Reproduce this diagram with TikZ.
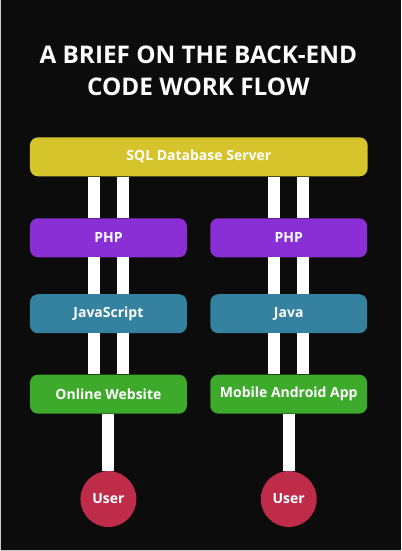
\documentclass[tikz,border=0pt]{standalone}
\usepackage{fontspec}
\setmainfont{Open Sans}
\usepackage{tikz}

\definecolor{bgblack}{HTML}{0C0C0C}
\definecolor{sqlyellow}{HTML}{D5C42B}
\definecolor{phppurple}{HTML}{8A2FD6}
\definecolor{codeblue}{HTML}{3581A0}
\definecolor{appgreen}{HTML}{3DAA2C}
\definecolor{usered}{HTML}{BE2C4A}

\begin{document}
\begin{tikzpicture}[x=1pt,y=-1pt,
  box/.style={rounded corners=8pt,minimum height=39pt,inner sep=0pt,text=white,
    font=\bfseries\fontsize{14}{16}\selectfont},
  half/.style={box,minimum width=157pt},
  user/.style={circle,fill=usered,minimum size=56pt,inner sep=0pt,text=white,
    font=\bfseries\fontsize{14}{16}\selectfont},
  bar/.style={draw=white,line width=12pt},
  title/.style={anchor=base,text=white,font=\bfseries\fontsize{24.3}{29}\selectfont}]
\fill[bgblack] (0,0) rectangle (401,551);
\draw[gray!40,line width=1pt] (0.5,0) -- (0.5,550.5) -- (401,550.5);

\node[title] (t1) at (198.5,63) {A BRIEF ON THE BACK-END};
\node[title] (t2) at (198.5,95) {CODE WORK FLOW};

\node[box,fill=sqlyellow,minimum width=338pt] (sql) at (199,156.5) {SQL Database Server};
\node[half,fill=phppurple] (php1) at (108.5,237.5) {PHP};
\node[half,fill=phppurple] (php2) at (289,237.5) {PHP};
\node[half,fill=codeblue] (js) at (108.5,313.5) {JavaScript};
\node[half,fill=codeblue] (java) at (289,313.5) {Java};
\node[half,fill=appgreen] (web) at (108.5,394) {Online Website};
\node[half,fill=appgreen] (app) at (289,394) {Mobile Android App};
\node[user] (user1) at (108.5,499) {User};
\node[user] (user2) at (289,499) {User};

% double bars between the boxes
\foreach \s in {-14.5,14.5} {
  \path [bar] ([xshift=\s pt]php1.north |- sql.south) edge ([xshift=\s pt]php1.north);
  \path [bar] ([xshift=\s pt]php2.north |- sql.south) edge ([xshift=\s pt]php2.north);
  \path [bar] ([xshift=\s pt]php1.south) edge ([xshift=\s pt]js.north);
  \path [bar] ([xshift=\s pt]php2.south) edge ([xshift=\s pt]java.north);
  \path [bar] ([xshift=\s pt]js.south) edge ([xshift=\s pt]web.north);
  \path [bar] ([xshift=\s pt]java.south) edge ([xshift=\s pt]app.north);
}
% single bar down to the user
\path [bar] (web.south) edge (user1.north);
\path [bar] (app.south) edge (user2.north);
\end{tikzpicture}
\end{document}
